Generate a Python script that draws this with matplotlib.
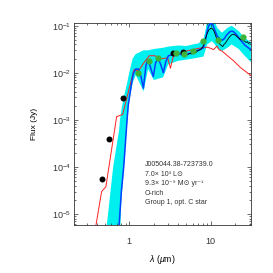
import numpy as np
import matplotlib
matplotlib.use('Agg')
import matplotlib.pyplot as plt
from matplotlib.ticker import LogLocator, FuncFormatter, NullFormatter

plt.rcParams['font.family'] = ['Liberation Sans', 'DejaVu Sans']
plt.rcParams['mathtext.fontset'] = 'custom'
plt.rcParams['mathtext.rm'] = 'Liberation Sans'
plt.rcParams['mathtext.it'] = 'Liberation Sans:italic'

# photometry (Jy)
phot_black_wl = [0.46, 0.56, 0.83, 3.45, 4.55]
phot_black_f = [5.5e-5, 4.0e-4, 2.9e-3, 0.026, 0.028]
phot_green_wl = [1.27, 1.75, 2.25, 3.75, 4.7, 5.97, 8.0, 12.4, 24.5]
phot_green_f = [0.010, 0.018, 0.021, 0.026, 0.0245, 0.029, 0.047, 0.049, 0.057]

# naked photosphere (red)
red_wl = [0.385, 0.39, 0.458, 0.517, 0.70, 0.83, 1.14, 1.3, 1.5, 1.76, 2.07, 2.3, 2.6,
          2.95, 3.2, 3.45, 4.0, 5.0, 6.0, 7.0, 8.0, 9.0, 10.0, 10.8, 11.9, 12.6, 13.7,
          16.0, 19.0, 23.0, 27.0, 31.0]
red_f = [3e-6, 5.7e-6, 3.0e-5, 3.8e-5, 1.17e-3, 1.3e-3, 0.0116, 0.011, 0.016, 0.023, 0.023,
         0.020, 0.020, 0.021, 0.0125, 0.022, 0.025, 0.029, 0.031, 0.033, 0.034, 0.035, 0.033,
         0.031, 0.037, 0.031, 0.029, 0.023, 0.018, 0.013, 0.0105, 0.0088]

# best fit model (blue)
blue_wl = [0.72, 0.75, 0.80, 0.855, 0.94, 0.97, 1.05, 1.12, 1.2, 1.3, 1.4, 1.49, 1.6, 1.68,
           1.8, 1.97, 2.1, 2.23, 2.4, 2.62, 2.8, 3.02, 3.32, 3.83, 4.2, 4.62, 5.0, 5.57,
           6.2, 7.06, 8.1, 8.6, 9.0, 9.4, 10.0, 10.6, 11.2, 12.0, 13.1, 13.7, 14.5, 15.5,
           17.0, 18.2, 19.5, 21.0, 23.0, 26.4, 31.0]
blue_f = [2e-6, 5.7e-6, 3e-5, 1e-4, 1e-3, 2e-3, 5e-3, 0.0095, 0.012, 0.012, 0.008, 0.0047,
          0.014, 0.019, 0.014, 0.0083, 0.016, 0.020, 0.016, 0.010, 0.017, 0.023, 0.024,
          0.026, 0.025, 0.023, 0.025, 0.026, 0.029, 0.030, 0.034, 0.050, 0.075, 0.100,
          0.112, 0.105, 0.080, 0.060, 0.051, 0.049, 0.052, 0.062, 0.074, 0.077, 0.072,
          0.062, 0.050, 0.038, 0.031]

# spectrum (black)
spec_wl = [5.2, 5.5, 5.8, 6.2, 6.6, 7.0, 7.5, 8.0, 8.5, 9.0, 9.5, 10.0, 10.5, 11.0, 11.5,
           12.0, 12.5, 13.0, 13.5, 14.0, 14.5, 15.0, 16.0, 17.0, 18.0, 19.0, 20.0, 21.0,
           22.0, 23.0, 24.0, 25.0, 26.0, 27.0, 28.0, 29.0, 30.0, 31.0]
spec_f = [0.024, 0.026, 0.025, 0.028, 0.027, 0.030, 0.031, 0.036, 0.050, 0.068, 0.082,
          0.088, 0.086, 0.075, 0.060, 0.050, 0.044, 0.040, 0.038, 0.036, 0.040, 0.042,
          0.050, 0.058, 0.064, 0.066, 0.063, 0.058, 0.055, 0.050, 0.052, 0.048, 0.047,
          0.044, 0.046, 0.042, 0.044, 0.043]

# range of acceptable models (cyan)
cyan_wl = [0.53, 0.635, 0.75, 0.77, 0.8, 0.855, 0.94, 1.0, 1.1, 1.2, 1.5, 1.7, 2.0, 2.6,
           3.0, 4.0, 5.0, 6.0, 7.0, 8.1, 8.6, 9.0, 10.3, 11.2, 12.0, 13.7, 16.0, 18.0,
           22.0, 26.0, 31.0]
cyan_lo = [1e-7, 1e-7, 1e-7, 3e-6, 2e-5, 8e-5, 8e-4, 2.5e-3, 6e-3, 0.009, 0.004, 0.012,
           0.007, 0.008, 0.015, 0.018, 0.019, 0.020, 0.021, 0.022, 0.030, 0.040, 0.047,
           0.040, 0.033, 0.029, 0.034, 0.040, 0.032, 0.023, 0.017]
cyan_hi = [5.7e-6, 1e-4, 6e-4, 1e-3, 1.6e-3, 3e-3, 6e-3, 1e-2, 0.02, 0.025, 0.03, 0.03,
           0.032, 0.034, 0.036, 0.038, 0.037, 0.040, 0.042, 0.050, 0.080, 0.125, 0.14,
           0.12, 0.09, 0.071, 0.09, 0.10, 0.077, 0.055, 0.045]

info = ['J005044.38-723739.0',
        '7.0\u00d7 10\u00b3 L\u2299',
        '9.3\u00d7 10\u207b\u2079 M\u2299 yr\u207b\u00b9',
        'O-rich',
        'Group 1, opt. C star']

fig = plt.figure(figsize=(2.73, 2.73), dpi=100)
ax = fig.add_axes([0.271, 0.174, 0.648, 0.741])

ax.fill_between(cyan_wl, cyan_lo, cyan_hi, color='#00f0f0', lw=0, zorder=1)
ax.plot(red_wl, red_f, color='#ff2020', lw=0.7, zorder=2)
ax.plot(blue_wl, blue_f, color='#0040ff', lw=1.1, zorder=3)
ax.plot(spec_wl, spec_f, color='black', lw=0.6, zorder=4)
ax.plot(phot_black_wl, phot_black_f, 'o', color='black', ms=4.3, mew=0, zorder=5)
ax.plot(phot_green_wl, phot_green_f, 'o', color='#3cb43c', ms=4.5, mew=0, zorder=6)

ax.set_xscale('log')
ax.set_yscale('log')
ax.set_xlim(0.21, 31)
ax.set_ylim(5.7e-6, 0.113)

ax.xaxis.set_major_formatter(FuncFormatter(lambda v, p: '%g' % v))
ax.xaxis.set_minor_formatter(NullFormatter())
ax.yaxis.set_major_locator(LogLocator(base=10))
ax.yaxis.set_minor_locator(LogLocator(base=10, subs=np.arange(2, 10)))
ax.yaxis.set_minor_formatter(NullFormatter())

ax.tick_params(which='both', direction='in', top=True, right=True, width=0.5,
               labelsize=6.5, colors='#333333')
ax.tick_params(which='major', length=3.2)
ax.tick_params(which='minor', length=1.6)
ax.tick_params(axis='x', pad=8)
ax.tick_params(axis='y', pad=2)
for s in ax.spines.values():
    s.set_linewidth(0.6)
    s.set_color('#333333')

ax.set_xlabel(r'$\lambda$ ($\mu$m)', fontsize=6.3, labelpad=5)
ax.set_ylabel('Flux (Jy)', fontsize=6.0, labelpad=10)

for i, line in enumerate(info):
    ax.text(0.40, 0.292 - i * 0.0465, line, transform=ax.transAxes, fontsize=5.0,
            color='#333333', va='baseline')

fig.savefig('out.png', dpi=100)
